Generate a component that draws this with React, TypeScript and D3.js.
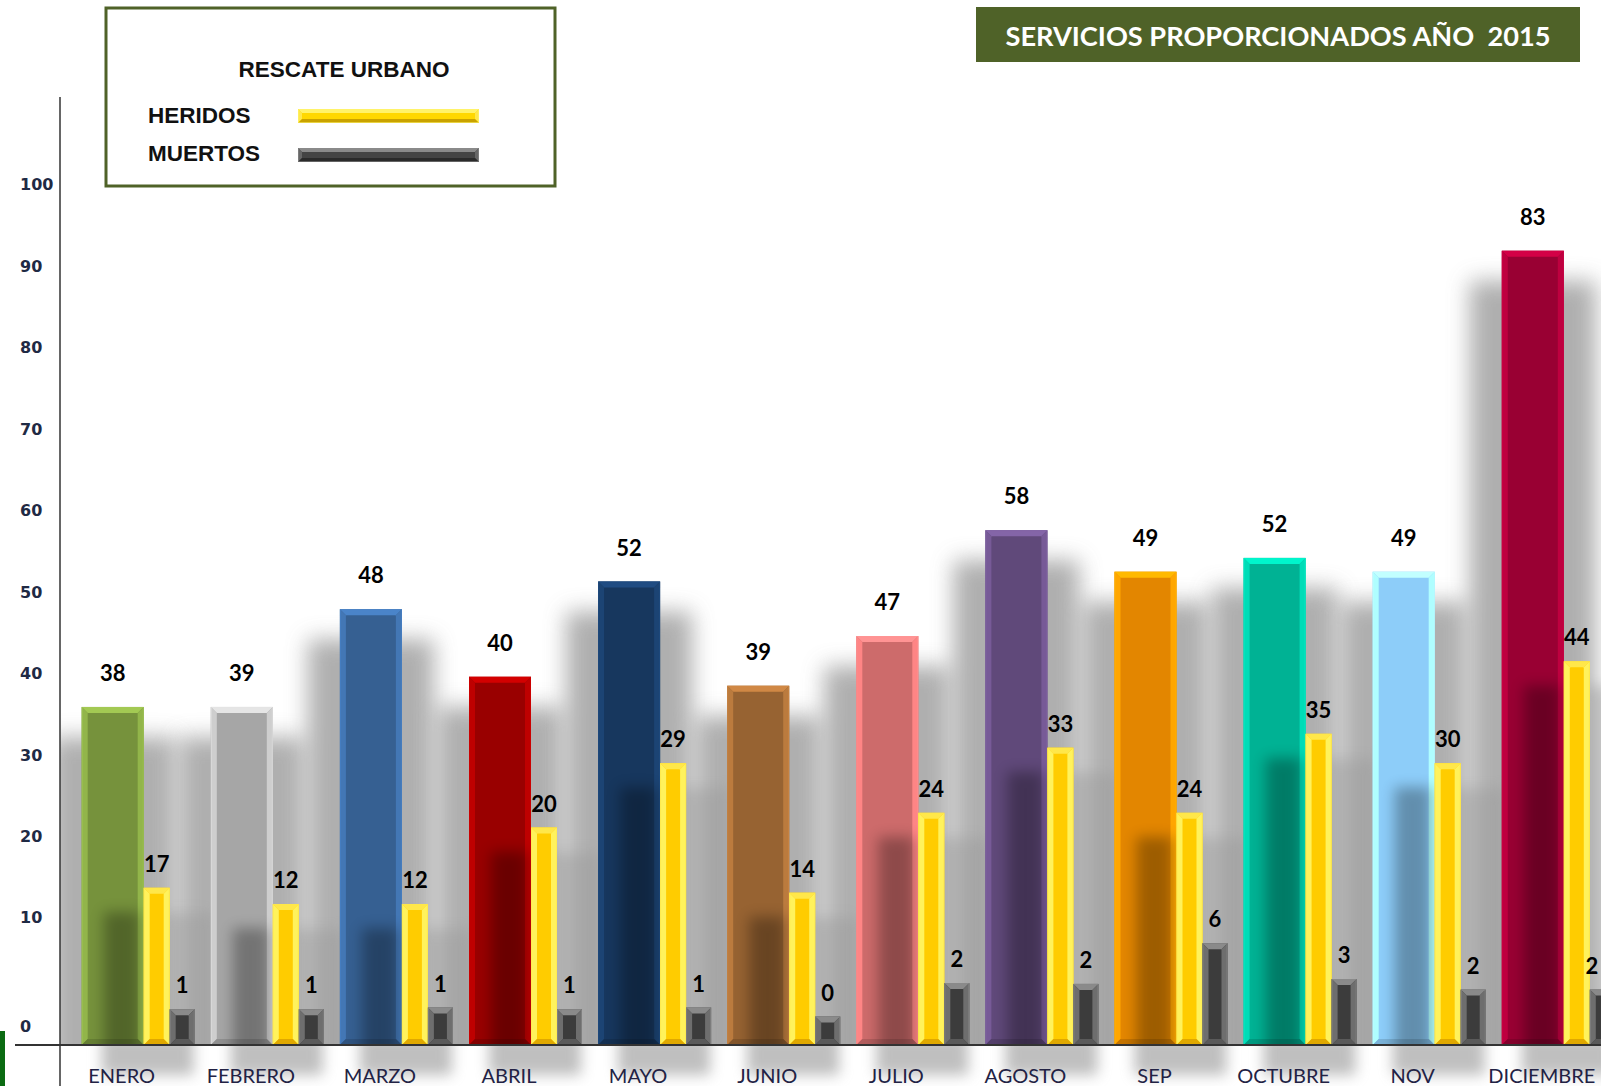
import * as d3 from "d3";

const MONTHS = ["ENERO", "FEBRERO", "MARZO", "ABRIL", "MAYO", "JUNIO", "JULIO", "AGOSTO", "SEP", "OCTUBRE", "NOV", "DICIEMBRE"];

// numbers printed over the bars
const RESCATES = [38, 39, 48, 40, 52, 39, 47, 58, 49, 52, 49, 83];
const HERIDOS = [17, 12, 12, 20, 29, 14, 24, 33, 24, 35, 30, 44];
const MUERTOS = [1, 1, 1, 1, 1, 0, 2, 2, 6, 3, 2, 2];

// bar tops as drawn, read against the axis (the drawn bars don't follow the printed numbers)
const RESCATES_BAR = [35.9, 35.9, 47.9, 39.6, 51.3, 38.5, 44.6, 57.6, 52.5, 54.2, 52.5, 91.9];
const HERIDOS_BAR = [13.7, 11.7, 11.7, 21.1, 29.0, 13.1, 22.9, 30.9, 22.9, 32.6, 29.0, 41.5];
const MUERTOS_BAR = [-1.2, -1.2, -1.0, -1.2, -1.0, -2.1, 2.0, 1.9, 6.9, 2.5, 1.2, 1.2];
const FLOOR = -5.6; // axis value where the floor line sits

const MONTH_COLORS = ["#76923c", "#a6a6a6", "#366092", "#990000", "#17375e", "#976332", "#cd6b6b", "#60497a", "#e38600", "#00b294", "#8dcdf9", "#990033"];

const Y_TICKS = [0, 10, 20, 30, 40, 50, 60, 70, 80, 90, 100];

const W = 1601;
const H = 1086;
const OLIVE = "#4f6228";

const y = d3.scaleLinear().domain([0, 100]).range([999.4, 184.8]);
const x = d3.scaleBand<string>().domain(MONTHS).range([81.7, 81.7 + 12 * 129.1]);
const MAIN_W = 62;
const HER_W = 26;
const MUE_W = 25;

function Bevel({ x0, y0, w, h, color, b, light, mid, dark }: {
  x0: number; y0: number; w: number; h: number; color: string; b: number;
  light: string; mid: string; dark: string;
}) {
  if (h <= 0) return null;
  const bb = Math.min(b, h / 2, w / 2);
  const x1 = x0 + w;
  const y1 = y0 + h;
  const pts = (p: number[][]) => p.map((q) => q.join(",")).join(" ");
  return (
    <g>
      <rect x={x0} y={y0} width={w} height={h} fill={color} />
      <polygon points={pts([[x0, y0], [x1, y0], [x1 - bb, y0 + bb], [x0 + bb, y0 + bb]])} fill={light} />
      <polygon points={pts([[x0, y0], [x0 + bb, y0 + bb], [x0 + bb, y1 - bb], [x0, y1]])} fill={mid} />
      <polygon points={pts([[x1, y0], [x1, y1], [x1 - bb, y1 - bb], [x1 - bb, y0 + bb]])} fill={mid} />
      <polygon points={pts([[x0, y1], [x0 + bb, y1 - bb], [x1 - bb, y1 - bb], [x1, y1]])} fill={dark} />
      <rect x={x0 + 0.5} y={y0 + 0.5} width={w - 1} height={h - 1} fill="none" stroke={light} strokeOpacity={0.6} strokeWidth={1} />
    </g>
  );
}

export default function App() {
  const floorY = y(FLOOR);
  const valueFont = "Lato, 'Open Sans', sans-serif";
  const clampX = (v: number) => Math.min(v, W - 9);

  return (
    <svg width={W} height={H} viewBox={`0 0 ${W} ${H}`} style={{ position: "absolute", left: 0, top: 0, background: "#fff" }}>
      <defs>
        <filter id="blurBig" x="-100%" y="-20%" width="300%" height="140%">
          <feGaussianBlur stdDeviation="11" />
        </filter>
        <filter id="blurSmall" x="-100%" y="-30%" width="300%" height="160%">
          <feGaussianBlur stdDeviation="7" />
        </filter>
        <clipPath id="plot">
          <rect x={60} y={0} width={W - 60} height={floorY} />
        </clipPath>
        <clipPath id="below">
          <rect x={60} y={floorY} width={W - 60} height={H - floorY} />
        </clipPath>
      </defs>

      {/* green artefact in lower-left corner */}
      <rect x={0} y={1031} width={5} height={55} fill="#0b6b12" />

      {/* shadows behind the main bars */}
      <g clipPath="url(#plot)">
        {MONTHS.map((m, i) => {
          const top = y(RESCATES_BAR[i]);
          return (
            <rect key={m} x={x(m)! - 32} y={top + 30} width={MAIN_W + 64} height={floorY - top}
              fill="#999" opacity={0.78} filter="url(#blurBig)" />
          );
        })}
        {MONTHS.map((m, i) => {
          const top = y(HERIDOS_BAR[i]);
          return (
            <rect key={m} x={x(m)! + MAIN_W + HER_W - 10} y={top + 25} width={MUE_W + 30} height={floorY - top}
              fill="#9a9a9a" opacity={0.45} filter="url(#blurSmall)" />
          );
        })}
      </g>

      {/* reflections under the floor */}
      <g clipPath="url(#below)">
        {MONTHS.map((m) => (
          <rect key={m} x={x(m)! + 20} y={floorY - 10} width={MAIN_W + 30} height={40}
            fill="#808080" opacity={0.5} filter="url(#blurSmall)" />
        ))}
      </g>

      {/* main bars */}
      {MONTHS.map((m, i) => {
        const top = y(RESCATES_BAR[i]);
        const c = d3.color(MONTH_COLORS[i])!;
        return (
          <Bevel key={m} x0={x(m)!} y0={top} w={MAIN_W} h={floorY - top} b={6}
            color={MONTH_COLORS[i]}
            light={c.brighter(0.9).formatHex()}
            mid={c.brighter(0.6).formatHex()}
            dark={c.darker(0.4).formatHex()} />
        );
      })}

      {/* heridos casting shadow onto main bars */}
      <g clipPath="url(#plot)">
        {MONTHS.map((m, i) => {
          const top = y(HERIDOS_BAR[i]);
          return (
            <rect key={m} x={x(m)! + MAIN_W - 40} y={top + 24} width={36} height={floorY - top}
              fill="#000" opacity={0.3} filter="url(#blurSmall)" />
          );
        })}
      </g>

      {/* heridos */}
      {MONTHS.map((m, i) => {
        const top = y(HERIDOS_BAR[i]);
        return (
          <Bevel key={m} x0={x(m)! + MAIN_W} y0={top} w={HER_W} h={floorY - top} b={6}
            color="#ffcc00" light="#ffe74a" mid="#fff25c" dark="#e0a800" />
        );
      })}

      {/* muertos */}
      {MONTHS.map((m, i) => {
        const top = y(MUERTOS_BAR[i]);
        return (
          <Bevel key={m} x0={x(m)! + MAIN_W + HER_W} y0={top} w={MUE_W} h={floorY - top} b={6}
            color="#3c3c3c" light="#8a8a8a" mid="#6e6e6e" dark="#5a5a5a" />
        );
      })}

      {/* value labels */}
      <g fontFamily={valueFont} fontWeight={700} fontSize={22} fill="#000" textAnchor="middle">
        {MONTHS.map((m, i) => (
          <g key={m}>
            <text x={x(m)! + MAIN_W / 2} y={y(RESCATES_BAR[i]) - 26}>{RESCATES[i]}</text>
            <text x={x(m)! + MAIN_W + HER_W / 2} y={y(HERIDOS_BAR[i]) - 16}>{HERIDOS[i]}</text>
            <text x={clampX(x(m)! + MAIN_W + HER_W + MUE_W / 2)} y={y(MUERTOS_BAR[i]) - 16}>{MUERTOS[i]}</text>
          </g>
        ))}
      </g>

      {/* axes */}
      <line x1={60} x2={60} y1={97} y2={H} stroke="#333" strokeWidth={1.5} />
      <line x1={15} x2={W} y1={floorY} y2={floorY} stroke="#333" strokeWidth={2} />

      <g fontFamily="'DejaVu Sans', Verdana, sans-serif" fontWeight={700} fontSize={16} fill="#1f2a44">
        {Y_TICKS.map((t) => (
          <text key={t} x={20} y={t === 0 ? floorY - 19 : y(t)} dominantBaseline="central">{t}</text>
        ))}
      </g>

      <g fontFamily={valueFont} fontSize={20} fill="#222244" textAnchor="middle">
        {MONTHS.map((m) => (
          <text key={m} x={x(m)! + MAIN_W / 2 + 9} y={1083}>{m}</text>
        ))}
      </g>

      {/* legend */}
      <rect x={106} y={8} width={449} height={178} fill="#fff" stroke={OLIVE} strokeWidth={3} />
      <g fontFamily="'Liberation Sans', Arial, sans-serif" fontWeight={700} fontSize={22.5} fill="#111">
        <text x={344} y={69} textAnchor="middle" dominantBaseline="central">RESCATE URBANO</text>
        <text x={148} y={115} dominantBaseline="central">HERIDOS</text>
        <text x={148} y={153} dominantBaseline="central">MUERTOS</text>
      </g>
      <Bevel x0={298} y0={109} w={181} h={14} b={4} color="#ffd800" light="#fff36a" mid="#ffe84a" dark="#c9a200" />
      <Bevel x0={298} y0={148} w={181} h={14} b={4} color="#444" light="#8a8a8a" mid="#666" dark="#2a2a2a" />

      {/* title */}
      <rect x={976} y={7} width={604} height={55} fill={OLIVE} />
      <text x={1278} y={35} textAnchor="middle" dominantBaseline="central" fill="#fff"
        fontFamily={valueFont} fontWeight={700} fontSize={27} textLength={545} lengthAdjust="spacingAndGlyphs">
        {"SERVICIOS PROPORCIONADOS AÑO\u00a0 2015"}
      </text>
    </svg>
  );
}
